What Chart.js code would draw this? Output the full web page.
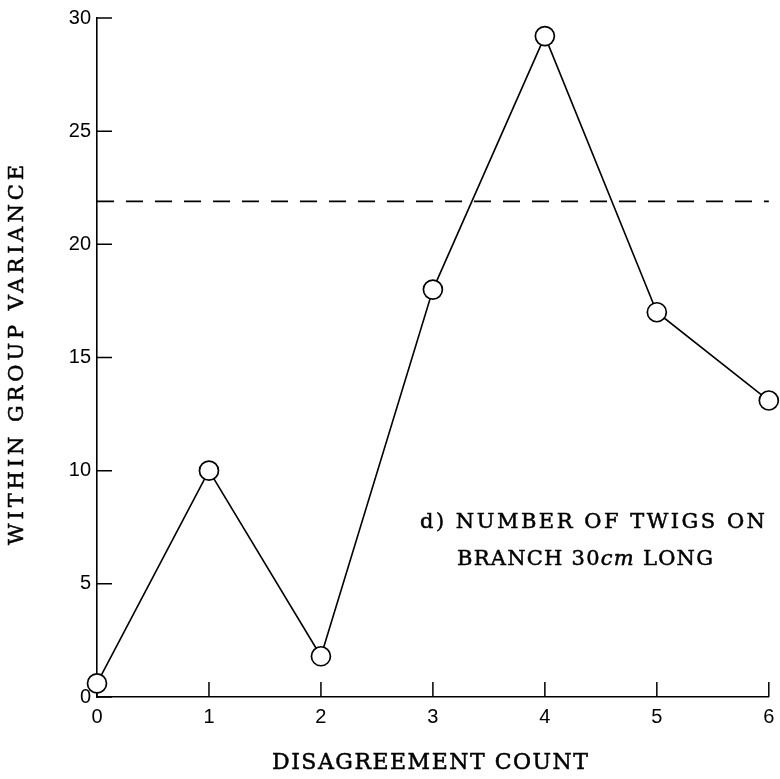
<!DOCTYPE html>
<html>
<head>
<meta charset="utf-8">
<script src="https://cdn.jsdelivr.net/npm/chart.js@4"></script>
<style>
  html, body { margin: 0; padding: 0; background: #fff; }
  canvas { display: block; }
</style>
</head>
<body>
<canvas id="chart" width="780" height="779"></canvas>
<script>
// disagreement count vs within group variance
const counts = [0, 1, 2, 3, 4, 5, 6];
const variance = [0.6, 10, 1.8, 18, 29.2, 17, 13.1];
// dashed reference level
const refX = [0, 6];
const refY = [21.9, 21.9];
const xTickVals = [0, 1, 2, 3, 4, 5, 6];
const yTickVals = [0, 5, 10, 15, 20, 25, 30];
const xTitle = 'DISAGREEMENT COUNT';
const yTitle = 'WITHIN GROUP VARIANCE';
const noteLine1 = [['d) NUMBER OF TWIGS ON', false]];
const noteLine2 = [['BRANCH 30', false], ['cm', true], [' LONG', false]];

const serif = '"DejaVu Serif", "Liberation Serif", serif';
const sans = '"Liberation Sans", Arial, sans-serif';

// draw text segments stretched to a given width with letter spacing
function spaced(ctx, segs, x, y, width, size) {
  let w0 = 0, n = 0;
  ctx.letterSpacing = '0px';
  segs.forEach(([t, it]) => {
    ctx.font = (it ? 'italic ' : '') + size + 'px ' + serif;
    w0 += ctx.measureText(t).width;
    n += t.length;
  });
  const sp = (width - w0) / (n - 1);
  ctx.letterSpacing = sp + 'px';
  let cx = x;
  segs.forEach(([t, it]) => {
    ctx.font = (it ? 'italic ' : '') + size + 'px ' + serif;
    ctx.fillText(t, cx, y);
    ctx.strokeText(t, cx, y);
    cx += ctx.measureText(t).width;
  });
  ctx.letterSpacing = '0px';
}

const decor = {
  id: 'decor',
  beforeDatasetsDraw(chart) {
    const { ctx, chartArea: a, scales: { x, y } } = chart;
    ctx.save();
    ctx.strokeStyle = '#000';
    ctx.lineWidth = 1.5;
    ctx.beginPath();
    x.ticks.forEach(t => {
      const px = x.getPixelForValue(t.value);
      ctx.moveTo(px, a.bottom);
      ctx.lineTo(px, a.bottom - 15);
    });
    y.ticks.forEach(t => {
      const py = y.getPixelForValue(t.value);
      ctx.moveTo(a.left, py);
      ctx.lineTo(a.left + 15, py);
    });
    ctx.stroke();
    ctx.restore();
  },
  afterDraw(chart) {
    const { ctx } = chart;
    ctx.save();
    ctx.fillStyle = '#000';
    ctx.strokeStyle = '#000';
    ctx.lineWidth = 0.5;
    ctx.textAlign = 'left';
    ctx.textBaseline = 'middle';

    // x title
    spaced(ctx, [[xTitle, false]], 272, 763, 316, 22);

    // y title
    ctx.save();
    ctx.translate(18, 355);
    ctx.rotate(-Math.PI / 2);
    spaced(ctx, [[yTitle, false]], -190, 0, 380, 21);
    ctx.restore();

    // annotation
    spaced(ctx, noteLine1, 420, 523, 345, 21);
    spaced(ctx, noteLine2, 457, 560, 256, 21);
    ctx.restore();
  }
};

new Chart(document.getElementById('chart'), {
  type: 'line',
  data: {
    datasets: [
      {
        data: counts.map((c, i) => ({ x: c, y: variance[i] })),
        borderColor: '#000',
        borderWidth: 1.6,
        pointRadius: 9.5,
        pointBackgroundColor: '#fff',
        pointBorderColor: '#000',
        pointBorderWidth: 1.7,
        tension: 0,
        clip: false,
        order: 1
      },
      {
        data: refX.map((v, i) => ({ x: v, y: refY[i] })),
        borderColor: '#000',
        borderWidth: 1.6,
        borderDash: [17, 12],
        pointRadius: 0,
        clip: false,
        order: 2
      }
    ]
  },
  options: {
    responsive: false,
    animation: false,
    layout: { padding: { top: 17, right: 2, left: 0, bottom: 0 } },
    plugins: { legend: { display: false }, tooltip: { enabled: false } },
    scales: {
      x: {
        type: 'linear',
        min: 0,
        max: 6,
        afterBuildTicks: s => { s.ticks = xTickVals.map(v => ({ value: v })); },
        afterFit: s => { s.height = 82; },
        // invisible tick marks push the labels down without widening the right padding
        grid: { display: true, drawOnChartArea: false, drawTicks: true, tickLength: 7, color: 'rgba(0,0,0,0)' },
        border: { display: true, color: '#000', width: 1.6 },
        ticks: { color: '#000', padding: 1, font: { family: sans, size: 20 } }
      },
      y: {
        type: 'linear',
        min: 0,
        max: 30,
        afterBuildTicks: s => { s.ticks = yTickVals.map(v => ({ value: v })); },
        afterFit: s => { s.width = 97; },
        grid: { display: false, drawTicks: false },
        border: { display: true, color: '#000', width: 1.6 },
        ticks: { color: '#000', padding: 6, font: { family: sans, size: 20 } }
      }
    }
  },
  plugins: [decor]
});
</script>
</body>
</html>
